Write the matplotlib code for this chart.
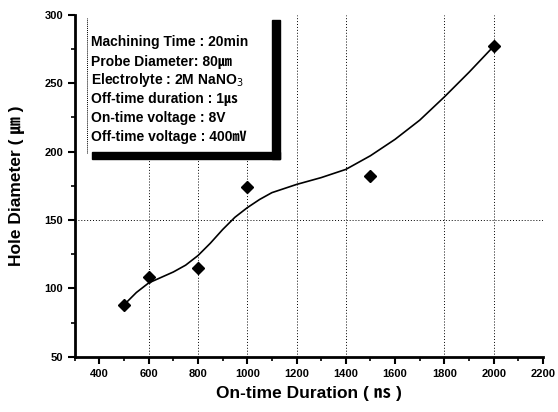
import matplotlib
matplotlib.use('Agg')
import matplotlib.pyplot as plt
from matplotlib.ticker import MultipleLocator

plt.rcParams['font.family'] = ['Liberation Sans', 'Noto Sans CJK KR', 'DejaVu Sans']

# measured points
on_time = [500, 600, 800, 1000, 1500, 2000]
diameter = [88, 108, 115, 174, 182, 277]

# fitted curve
curve_x = [500, 550, 600, 650, 700, 750, 800, 850, 900, 950, 1000, 1050, 1100,
           1150, 1200, 1300, 1400, 1500, 1600, 1700, 1800, 1900, 2000]
curve_y = [88, 97, 104, 108, 112, 117, 124, 133, 143, 152, 159, 165, 170,
           173, 176, 181, 187, 197, 209, 223, 240, 258, 277]

grid_x = [600, 800, 1000, 1200, 1400, 1800, 2000]
grid_y = [150]

info_lines = [
    'Machining Time : 20min',
    'Probe Diameter: 80\u339b',
    'Electrolyte : 2M NaNO$_3$',
    'Off-time duration : 1\u33b2',
    'On-time voltage : 8V',
    'Off-time voltage : 400\u33b7',
]

fig = plt.figure(figsize=(5.58, 4.12), dpi=100)
ax = fig.add_axes([0.134, 0.134, 0.839, 0.83])

for gx in grid_x:
    ax.axvline(gx, color='black', linestyle=(0, (1, 2)), linewidth=0.7, zorder=1)
for gy in grid_y:
    ax.axhline(gy, color='black', linestyle=(0, (1, 2)), linewidth=0.7, zorder=1)

ax.plot(curve_x, curve_y, color='black', linewidth=1.2, zorder=2)
ax.plot(on_time, diameter, linestyle='none', marker='D', markersize=6,
        color='black', zorder=3)

ax.set_xlim(300, 2200)
ax.set_ylim(50, 300)
ax.set_xticks(range(400, 2201, 200))
ax.xaxis.set_minor_locator(MultipleLocator(100))
ax.yaxis.set_major_locator(MultipleLocator(50))
ax.yaxis.set_minor_locator(MultipleLocator(25))

for s in ['top', 'right']:
    ax.spines[s].set_visible(False)
for s in ['left', 'bottom']:
    ax.spines[s].set_linewidth(2)

ax.tick_params(which='major', direction='out', length=5, width=1.5, labelsize=8)
ax.tick_params(which='minor', direction='out', length=3, width=1.2)
for lab in ax.get_xticklabels() + ax.get_yticklabels():
    lab.set_fontweight('bold')

ax.set_xlabel('On-time Duration ( \u33b1 )', fontsize=12.5, fontweight='bold', labelpad=5)
ax.set_ylabel('Hole Diameter ( \u339b )', fontsize=12.5, fontweight='bold', labelpad=14)

# info box (white, covers grid) with shadow
fig.patches.append(plt.Rectangle((87 / 558, 1 - 153 / 412), 185 / 558, 138 / 412,
                                 transform=fig.transFigure, facecolor='white',
                                 edgecolor='none', zorder=1))
fig.patches.append(plt.Rectangle((272 / 558, 1 - 159 / 412), 8 / 558, 139 / 412,
                                 transform=fig.transFigure, color='black', zorder=2))
fig.patches.append(plt.Rectangle((92 / 558, 1 - 159 / 412), 188 / 558, 7 / 412,
                                 transform=fig.transFigure, color='black', zorder=2))
fig.lines.append(plt.Line2D([87 / 558, 87 / 558], [1 - 153 / 412, 1 - 18 / 412],
                            transform=fig.transFigure, color='black',
                            linestyle=(0, (1, 1)), linewidth=0.7, zorder=2))

line_y = [42, 62, 80, 99, 118, 137]
for txt, py in zip(info_lines, line_y):
    fig.text(91 / 558, 1 - py / 412, txt, fontsize=10, fontweight='bold',
             va='center', ha='left', zorder=3)

fig.savefig('out.png', dpi=100)
